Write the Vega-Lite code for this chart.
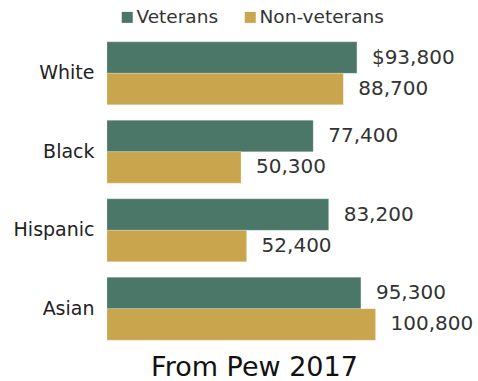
{
  "$schema": "https://vega.github.io/schema/vega-lite/v6.json",
  "autosize": {"type": "none"},
  "padding": {"left": 107, "top": 34, "right": 6, "bottom": 33},
  "width": 365,
  "height": 314,
  "background": "white",
  "title": {
    "text": "From Pew 2017",
    "orient": "bottom",
    "anchor": "middle",
    "frame": "group",
    "dx": -35,
    "offset": 7,
    "baseline": "top",
    "font": "DejaVu Sans",
    "fontSize": 27,
    "fontWeight": "normal",
    "color": "#111111"
  },
  "data": {
    "values": [
      {"race": "White", "group": "Veterans", "value": 93800, "label": "$93,800"},
      {"race": "White", "group": "Non-veterans", "value": 88700, "label": "88,700"},
      {"race": "Black", "group": "Veterans", "value": 77400, "label": "77,400"},
      {"race": "Black", "group": "Non-veterans", "value": 50300, "label": "50,300"},
      {"race": "Hispanic", "group": "Veterans", "value": 83200, "label": "83,200"},
      {"race": "Hispanic", "group": "Non-veterans", "value": 52400, "label": "52,400"},
      {"race": "Asian", "group": "Veterans", "value": 95300, "label": "95,300"},
      {"race": "Asian", "group": "Non-veterans", "value": 100800, "label": "100,800"}
    ]
  },
  "encoding": {
    "y": {
      "field": "race",
      "type": "nominal",
      "sort": ["White", "Black", "Hispanic", "Asian"],
      "scale": {"paddingInner": 0.2, "paddingOuter": 0.1},
      "axis": {
        "title": null,
        "ticks": false,
        "domain": false,
        "labelPadding": 13,
        "labelFont": "DejaVu Sans",
        "labelFontSize": 19,
        "labelColor": "#222222"
      }
    },
    "yOffset": {
      "field": "group",
      "type": "nominal",
      "sort": ["Veterans", "Non-veterans"],
      "scale": {"paddingInner": 0, "paddingOuter": 0}
    },
    "x": {
      "field": "value",
      "type": "quantitative",
      "scale": {"domain": [0, 137000], "nice": false, "zero": true},
      "axis": null
    }
  },
  "layer": [
    {
      "mark": {"type": "bar", "stroke": "#ffffff", "strokeWidth": 0.5, "strokeOpacity": 0.4},
      "encoding": {
        "color": {
          "field": "group",
          "type": "nominal",
          "sort": ["Veterans", "Non-veterans"],
          "scale": {"domain": ["Veterans", "Non-veterans"], "range": ["#4a7767", "#c9a64e"]},
          "legend": {
            "title": null,
            "orient": "none",
            "direction": "horizontal",
            "legendX": 11,
            "legendY": -26,
            "symbolType": "square",
            "symbolSize": 121,
            "symbolStrokeWidth": 0,
            "labelFont": "DejaVu Sans",
            "labelFontSize": 18.5,
            "labelColor": "#333333",
            "labelOffset": 0,
            "columnPadding": 22
          }
        }
      }
    },
    {
      "mark": {
        "type": "text",
        "align": "left",
        "baseline": "middle",
        "dx": 15,
        "font": "DejaVu Sans",
        "fontSize": 20,
        "color": "#333333"
      },
      "encoding": {
        "text": {"field": "label", "type": "nominal"}
      }
    }
  ],
  "config": {"view": {"stroke": null}}
}
